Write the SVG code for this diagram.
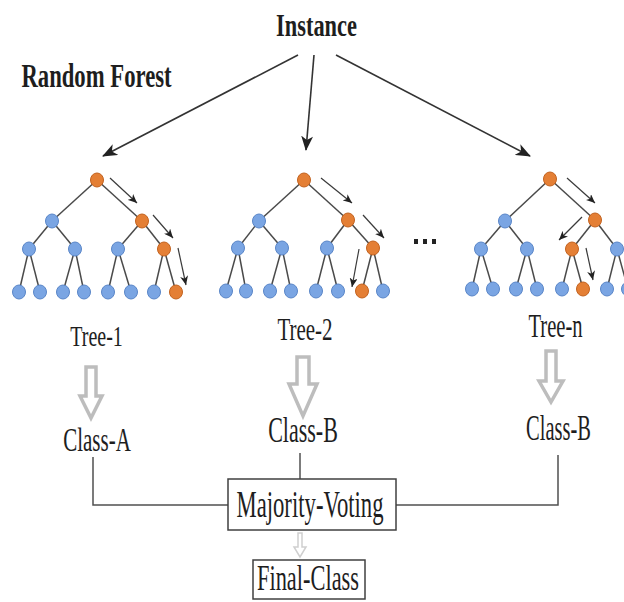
<svg xmlns="http://www.w3.org/2000/svg" width="624" height="602" viewBox="0 0 624 602">
<defs>
<style>
.t{font-family:"Liberation Serif","Times New Roman",serif;fill:#1e1e1e;text-anchor:middle}
.b{font-weight:bold}
.e{stroke:#4a4a4a;stroke-width:1.5;fill:none}
.bn{fill:#7aa5e3;stroke:#5a86c8;stroke-width:1}
.on{fill:#e47f35;stroke:#c2621f;stroke-width:1}
.ia{stroke:#333;stroke-width:1.6;fill:none;marker-end:url(#big)}
.sa{stroke:#3a3a3a;stroke-width:1.2;fill:none;marker-end:url(#small)}
.ho{fill:#fff;stroke:#bdbdbd;stroke-width:3.5;stroke-linejoin:miter}
.cn{stroke:#505050;stroke-width:1.5;fill:none}
.bx{fill:#fff;stroke:#404040;stroke-width:1.5}
</style>
<marker id="big" markerUnits="userSpaceOnUse" markerWidth="16" markerHeight="12" refX="14" refY="6" orient="auto">
<path d="M0,0 L15,6 L0,12 L4,6 Z" fill="#222"/>
</marker>
<marker id="small" markerUnits="userSpaceOnUse" markerWidth="10" markerHeight="8" refX="9" refY="4" orient="auto">
<path d="M0,0 L9,4 L0,8 L2.5,4 Z" fill="#222"/>
</marker>
</defs>
<rect width="624" height="602" fill="#fff"/>

<g id="title-instance"><text class="t b" font-size="22.4" transform="translate(316.5,36) scale(1,1.42)">Instance</text></g>
<g id="title-rf"><text class="t b" font-size="22.7" transform="translate(96.5,87) scale(1,1.46)">Random Forest</text></g>

<g id="connectors">
<line class="ia" x1="298" y1="55" x2="103" y2="156"/>
<line class="ia" x1="314" y1="55" x2="306" y2="150"/>
<line class="ia" x1="336" y1="55" x2="530" y2="156"/>
<polyline class="cn" points="93,457 93,505 228,505"/>
<line class="cn" x1="300" y1="453" x2="300" y2="479"/>
<polyline class="cn" points="558,455 558,505 396,505"/>
</g>

<g id="tree-1">
<g class="e">
<line x1="97" y1="180" x2="52" y2="221"/><line x1="97" y1="180" x2="142" y2="221"/>
<line x1="52" y1="221" x2="29" y2="249"/><line x1="52" y1="221" x2="75" y2="249"/>
<line x1="142" y1="221" x2="118" y2="249"/><line x1="142" y1="221" x2="164" y2="249"/>
<line x1="29" y1="249" x2="19" y2="292"/><line x1="29" y1="249" x2="40" y2="292"/>
<line x1="75" y1="249" x2="63" y2="292"/><line x1="75" y1="249" x2="84" y2="292"/>
<line x1="118" y1="249" x2="108" y2="292"/><line x1="118" y1="249" x2="131" y2="292"/>
<line x1="164" y1="249" x2="154" y2="292"/><line x1="164" y1="249" x2="176" y2="292"/>
</g>
<ellipse class="on" cx="97" cy="180" rx="6.5" ry="7"/>
<ellipse class="bn" cx="52" cy="221" rx="6.5" ry="7"/>
<ellipse class="on" cx="142" cy="221" rx="6.5" ry="7"/>
<ellipse class="bn" cx="29" cy="249" rx="6.5" ry="7"/>
<ellipse class="bn" cx="75" cy="249" rx="6.5" ry="7"/>
<ellipse class="bn" cx="118" cy="249" rx="6.5" ry="7"/>
<ellipse class="on" cx="164" cy="249" rx="6.5" ry="7"/>
<ellipse class="bn" cx="19" cy="292" rx="6.5" ry="7"/>
<ellipse class="bn" cx="40" cy="292" rx="6.5" ry="7"/>
<ellipse class="bn" cx="63" cy="292" rx="6.5" ry="7"/>
<ellipse class="bn" cx="84" cy="292" rx="6.5" ry="7"/>
<ellipse class="bn" cx="108" cy="292" rx="6.5" ry="7"/>
<ellipse class="bn" cx="131" cy="292" rx="6.5" ry="7"/>
<ellipse class="bn" cx="154" cy="292" rx="6.5" ry="7"/>
<ellipse class="on" cx="176" cy="292" rx="6.5" ry="7"/>
<line class="sa" x1="110" y1="178" x2="137" y2="203"/>
<line class="sa" x1="153" y1="215" x2="173" y2="238"/>
<line class="sa" x1="178" y1="248" x2="186" y2="285"/>
<text class="t" font-size="20" transform="translate(96.5,346) scale(1,1.5)">Tree-1</text>
</g>

<g id="tree-2">
<g class="e">
<line x1="304" y1="180" x2="259" y2="221"/><line x1="304" y1="180" x2="348" y2="220"/>
<line x1="259" y1="221" x2="238" y2="248"/><line x1="259" y1="221" x2="282" y2="248"/>
<line x1="348" y1="220" x2="327" y2="248"/><line x1="348" y1="220" x2="373" y2="248"/>
<line x1="238" y1="248" x2="226" y2="291"/><line x1="238" y1="248" x2="246" y2="291"/>
<line x1="282" y1="248" x2="270" y2="291"/><line x1="282" y1="248" x2="291" y2="291"/>
<line x1="327" y1="248" x2="316" y2="291"/><line x1="327" y1="248" x2="338" y2="291"/>
<line x1="373" y1="248" x2="362" y2="291"/><line x1="373" y1="248" x2="383" y2="291"/>
</g>
<ellipse class="on" cx="304" cy="180" rx="6.5" ry="7"/>
<ellipse class="bn" cx="259" cy="221" rx="6.5" ry="7"/>
<ellipse class="on" cx="348" cy="220" rx="6.5" ry="7"/>
<ellipse class="bn" cx="238" cy="248" rx="6.5" ry="7"/>
<ellipse class="bn" cx="282" cy="248" rx="6.5" ry="7"/>
<ellipse class="bn" cx="327" cy="248" rx="6.5" ry="7"/>
<ellipse class="on" cx="373" cy="248" rx="6.5" ry="7"/>
<ellipse class="bn" cx="226" cy="291" rx="6.5" ry="7"/>
<ellipse class="bn" cx="246" cy="291" rx="6.5" ry="7"/>
<ellipse class="bn" cx="270" cy="291" rx="6.5" ry="7"/>
<ellipse class="bn" cx="291" cy="291" rx="6.5" ry="7"/>
<ellipse class="bn" cx="316" cy="291" rx="6.5" ry="7"/>
<ellipse class="bn" cx="338" cy="291" rx="6.5" ry="7"/>
<ellipse class="on" cx="362" cy="291" rx="6.5" ry="7"/>
<ellipse class="bn" cx="383" cy="291" rx="6.5" ry="7"/>
<line class="sa" x1="321" y1="178" x2="352" y2="203"/>
<line class="sa" x1="363" y1="215" x2="384" y2="238"/>
<line class="sa" x1="359" y1="249" x2="352" y2="287"/>
<text class="t" font-size="21" transform="translate(305,340) scale(1,1.55)">Tree-2</text>
</g>

<g id="ellipsis">
<rect x="414" y="239" width="4" height="5" fill="#222"/>
<rect x="423" y="239" width="4" height="5" fill="#222"/>
<rect x="432" y="239" width="4" height="5" fill="#222"/>
</g>

<g id="tree-n">
<g class="e">
<line x1="550" y1="179" x2="505" y2="221"/><line x1="550" y1="179" x2="595" y2="220"/>
<line x1="505" y1="221" x2="481" y2="249"/><line x1="505" y1="221" x2="527" y2="249"/>
<line x1="595" y1="220" x2="572" y2="249"/><line x1="595" y1="220" x2="617" y2="249"/>
<line x1="481" y1="249" x2="472" y2="289"/><line x1="481" y1="249" x2="493" y2="289"/>
<line x1="527" y1="249" x2="516" y2="289"/><line x1="527" y1="249" x2="537" y2="289"/>
<line x1="572" y1="249" x2="562" y2="289"/><line x1="572" y1="249" x2="583" y2="289"/>
<line x1="617" y1="249" x2="607" y2="289"/><line x1="617" y1="249" x2="628" y2="289"/>
</g>
<ellipse class="on" cx="550" cy="179" rx="6.5" ry="7"/>
<ellipse class="bn" cx="505" cy="221" rx="6.5" ry="7"/>
<ellipse class="on" cx="595" cy="220" rx="6.5" ry="7"/>
<ellipse class="bn" cx="481" cy="249" rx="6.5" ry="7"/>
<ellipse class="bn" cx="527" cy="249" rx="6.5" ry="7"/>
<ellipse class="on" cx="572" cy="249" rx="6.5" ry="7"/>
<ellipse class="bn" cx="617" cy="249" rx="6.5" ry="7"/>
<ellipse class="bn" cx="472" cy="289" rx="6.5" ry="7"/>
<ellipse class="bn" cx="493" cy="289" rx="6.5" ry="7"/>
<ellipse class="bn" cx="516" cy="289" rx="6.5" ry="7"/>
<ellipse class="bn" cx="537" cy="289" rx="6.5" ry="7"/>
<ellipse class="bn" cx="562" cy="289" rx="6.5" ry="7"/>
<ellipse class="on" cx="583" cy="289" rx="6.5" ry="7"/>
<ellipse class="bn" cx="607" cy="289" rx="6.5" ry="7"/>
<ellipse class="bn" cx="628" cy="289" rx="6.5" ry="7"/>
<line class="sa" x1="567" y1="178" x2="595" y2="203"/>
<line class="sa" x1="582" y1="217" x2="559" y2="240"/>
<line class="sa" x1="586" y1="248" x2="593" y2="280"/>
<text class="t" font-size="20.6" transform="translate(555.5,337) scale(1,1.6)">Tree-n</text>
</g>

<g id="arrow-1"><path class="ho" d="M86,367 L96,367 L96,396 L102,396 L91,418 L80,396 L86,396 Z"/></g>
<g id="arrow-2"><path class="ho" d="M297,357 L309,357 L309,384 L317,384 L303,416 L289,384 L297,384 Z"/></g>
<g id="arrow-n"><path class="ho" d="M546,351 L556,351 L556,381 L563,381 L551,402 L539,381 L546,381 Z"/></g>

<g id="class-a"><text class="t" font-size="21" transform="translate(97,451) scale(1,1.6)">Class-A</text></g>
<g id="class-b-2"><text class="t" font-size="22" transform="translate(303,442) scale(1,1.6)">Class-B</text></g>
<g id="class-b-n"><text class="t" font-size="20.5" transform="translate(558.5,440) scale(1,1.7)">Class-B</text></g>

<g id="majority-voting">
<rect class="bx" x="228" y="479" width="168" height="51"/>
<text class="t" font-size="22.7" transform="translate(310,517) scale(1,1.7)">Majority-Voting</text>
</g>

<g id="vote-arrow"><path d="M298,533 L302,533 L302,547 L306,547 L300,557 L294,547 L298,547 Z" fill="#fff" stroke="#cfcfcf" stroke-width="1.5"/></g>

<g id="final-class">
<rect class="bx" x="253" y="560" width="112" height="39"/>
<text class="t" font-size="22.4" transform="translate(308,590) scale(1,1.6)">Final-Class</text>
</g>
</svg>
